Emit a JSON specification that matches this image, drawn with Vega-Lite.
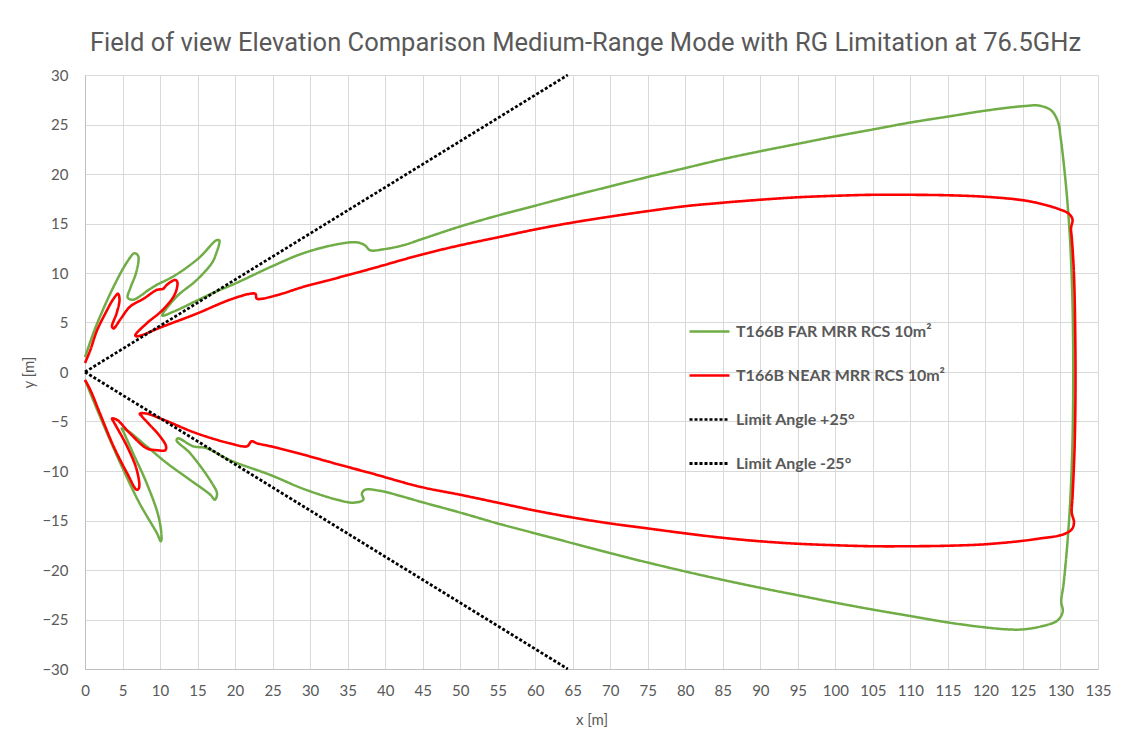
{
  "$schema": "https://vega.github.io/schema/vega-lite/v6.json",
  "width": 1013,
  "height": 594,
  "autosize": {"type": "none"},
  "padding": {"left": 85, "top": 75, "right": 33, "bottom": 69},
  "background": "white",
  "title": {
    "text": "Field of view Elevation Comparison Medium-Range Mode with RG Limitation at 76.5GHz",
    "font": "Roboto",
    "fontSize": 25.5,
    "fontWeight": "normal",
    "color": "#595959",
    "anchor": "middle",
    "offset": 12,
    "dx": -6
  },
  "config": {
    "view": {"stroke": null},
    "axis": {
      "labelFont": "Lato",
      "labelFontSize": 15,
      "labelColor": "#595959",
      "titleFont": "Lato",
      "titleFontSize": 15,
      "titleFontWeight": "normal",
      "titleColor": "#595959",
      "gridColor": "#d9d9d9",
      "gridWidth": 1,
      "domainColor": "#bfbfbf",
      "ticks": false
    },
    "legend": {
      "labelFont": "Lato",
      "labelFontSize": 16,
      "labelFontWeight": "bold",
      "labelColor": "#595959",
      "labelLimit": 0
    }
  },
  "data": {
    "values": [
      {"s": "T166B FAR MRR RCS 10m²", "o": 1, "x": 0, "y": 1.5},
      {"s": "T166B FAR MRR RCS 10m²", "o": 2, "x": 1.1, "y": 3.9},
      {"s": "T166B FAR MRR RCS 10m²", "o": 3, "x": 2.0, "y": 5.6},
      {"s": "T166B FAR MRR RCS 10m²", "o": 4, "x": 3.8, "y": 8.6},
      {"s": "T166B FAR MRR RCS 10m²", "o": 5, "x": 5.6, "y": 11.1},
      {"s": "T166B FAR MRR RCS 10m²", "o": 6, "x": 6.6, "y": 12.0},
      {"s": "T166B FAR MRR RCS 10m²", "o": 7, "x": 7.1, "y": 11.7},
      {"s": "T166B FAR MRR RCS 10m²", "o": 8, "x": 6.8, "y": 10.0},
      {"s": "T166B FAR MRR RCS 10m²", "o": 9, "x": 6.1, "y": 8.6},
      {"s": "T166B FAR MRR RCS 10m²", "o": 10, "x": 5.7, "y": 7.5},
      {"s": "T166B FAR MRR RCS 10m²", "o": 11, "x": 6.4, "y": 7.3},
      {"s": "T166B FAR MRR RCS 10m²", "o": 12, "x": 7.6, "y": 7.8},
      {"s": "T166B FAR MRR RCS 10m²", "o": 13, "x": 8.3, "y": 8.2},
      {"s": "T166B FAR MRR RCS 10m²", "o": 14, "x": 9.8, "y": 8.9},
      {"s": "T166B FAR MRR RCS 10m²", "o": 15, "x": 10.9, "y": 9.3},
      {"s": "T166B FAR MRR RCS 10m²", "o": 16, "x": 12.7, "y": 10.1},
      {"s": "T166B FAR MRR RCS 10m²", "o": 17, "x": 15.3, "y": 11.6},
      {"s": "T166B FAR MRR RCS 10m²", "o": 18, "x": 17.5, "y": 13.3},
      {"s": "T166B FAR MRR RCS 10m²", "o": 19, "x": 17.9, "y": 13.3},
      {"s": "T166B FAR MRR RCS 10m²", "o": 20, "x": 17.4, "y": 11.8},
      {"s": "T166B FAR MRR RCS 10m²", "o": 21, "x": 16.9, "y": 11.0},
      {"s": "T166B FAR MRR RCS 10m²", "o": 22, "x": 14.9, "y": 9.3},
      {"s": "T166B FAR MRR RCS 10m²", "o": 23, "x": 12.2, "y": 7.6},
      {"s": "T166B FAR MRR RCS 10m²", "o": 24, "x": 10.3, "y": 5.7},
      {"s": "T166B FAR MRR RCS 10m²", "o": 25, "x": 11.8, "y": 6.1},
      {"s": "T166B FAR MRR RCS 10m²", "o": 26, "x": 17.1, "y": 8.0},
      {"s": "T166B FAR MRR RCS 10m²", "o": 27, "x": 20.2, "y": 9.0},
      {"s": "T166B FAR MRR RCS 10m²", "o": 28, "x": 24.7, "y": 10.6},
      {"s": "T166B FAR MRR RCS 10m²", "o": 29, "x": 29.1, "y": 12.0},
      {"s": "T166B FAR MRR RCS 10m²", "o": 30, "x": 33.6, "y": 12.9},
      {"s": "T166B FAR MRR RCS 10m²", "o": 31, "x": 36.2, "y": 13.1},
      {"s": "T166B FAR MRR RCS 10m²", "o": 32, "x": 37.3, "y": 12.8},
      {"s": "T166B FAR MRR RCS 10m²", "o": 33, "x": 38.0, "y": 12.3},
      {"s": "T166B FAR MRR RCS 10m²", "o": 34, "x": 39.8, "y": 12.4},
      {"s": "T166B FAR MRR RCS 10m²", "o": 35, "x": 42.4, "y": 12.8},
      {"s": "T166B FAR MRR RCS 10m²", "o": 36, "x": 44.8, "y": 13.4},
      {"s": "T166B FAR MRR RCS 10m²", "o": 37, "x": 50, "y": 14.7},
      {"s": "T166B FAR MRR RCS 10m²", "o": 38, "x": 55, "y": 15.8},
      {"s": "T166B FAR MRR RCS 10m²", "o": 39, "x": 60, "y": 16.8},
      {"s": "T166B FAR MRR RCS 10m²", "o": 40, "x": 65, "y": 17.8},
      {"s": "T166B FAR MRR RCS 10m²", "o": 41, "x": 70, "y": 18.75},
      {"s": "T166B FAR MRR RCS 10m²", "o": 42, "x": 75, "y": 19.7},
      {"s": "T166B FAR MRR RCS 10m²", "o": 43, "x": 80, "y": 20.6},
      {"s": "T166B FAR MRR RCS 10m²", "o": 44, "x": 85, "y": 21.5},
      {"s": "T166B FAR MRR RCS 10m²", "o": 45, "x": 90, "y": 22.3},
      {"s": "T166B FAR MRR RCS 10m²", "o": 46, "x": 95, "y": 23.05},
      {"s": "T166B FAR MRR RCS 10m²", "o": 47, "x": 100, "y": 23.8},
      {"s": "T166B FAR MRR RCS 10m²", "o": 48, "x": 105, "y": 24.5},
      {"s": "T166B FAR MRR RCS 10m²", "o": 49, "x": 110, "y": 25.2},
      {"s": "T166B FAR MRR RCS 10m²", "o": 50, "x": 115, "y": 25.8},
      {"s": "T166B FAR MRR RCS 10m²", "o": 51, "x": 120, "y": 26.4},
      {"s": "T166B FAR MRR RCS 10m²", "o": 52, "x": 125, "y": 26.85},
      {"s": "T166B FAR MRR RCS 10m²", "o": 53, "x": 127.2, "y": 26.9},
      {"s": "T166B FAR MRR RCS 10m²", "o": 54, "x": 128.8, "y": 26.4},
      {"s": "T166B FAR MRR RCS 10m²", "o": 55, "x": 129.7, "y": 25.2},
      {"s": "T166B FAR MRR RCS 10m²", "o": 56, "x": 130.0, "y": 23.8},
      {"s": "T166B FAR MRR RCS 10m²", "o": 57, "x": 130.4, "y": 21.3},
      {"s": "T166B FAR MRR RCS 10m²", "o": 58, "x": 130.9, "y": 17.4},
      {"s": "T166B FAR MRR RCS 10m²", "o": 59, "x": 131.3, "y": 13.0},
      {"s": "T166B FAR MRR RCS 10m²", "o": 60, "x": 131.6, "y": 7.0},
      {"s": "T166B FAR MRR RCS 10m²", "o": 61, "x": 131.7, "y": 0},
      {"s": "T166B FAR MRR RCS 10m²", "o": 62, "x": 131.6, "y": -7.0},
      {"s": "T166B FAR MRR RCS 10m²", "o": 63, "x": 131.3, "y": -13.0},
      {"s": "T166B FAR MRR RCS 10m²", "o": 64, "x": 130.9, "y": -17.5},
      {"s": "T166B FAR MRR RCS 10m²", "o": 65, "x": 130.4, "y": -21.5},
      {"s": "T166B FAR MRR RCS 10m²", "o": 66, "x": 130.1, "y": -23.2},
      {"s": "T166B FAR MRR RCS 10m²", "o": 67, "x": 130.3, "y": -24.2},
      {"s": "T166B FAR MRR RCS 10m²", "o": 68, "x": 129.6, "y": -25.1},
      {"s": "T166B FAR MRR RCS 10m²", "o": 69, "x": 127.4, "y": -25.7},
      {"s": "T166B FAR MRR RCS 10m²", "o": 70, "x": 125, "y": -26.0},
      {"s": "T166B FAR MRR RCS 10m²", "o": 71, "x": 123, "y": -26.0},
      {"s": "T166B FAR MRR RCS 10m²", "o": 72, "x": 120, "y": -25.8},
      {"s": "T166B FAR MRR RCS 10m²", "o": 73, "x": 115, "y": -25.3},
      {"s": "T166B FAR MRR RCS 10m²", "o": 74, "x": 110, "y": -24.65},
      {"s": "T166B FAR MRR RCS 10m²", "o": 75, "x": 105, "y": -24.0},
      {"s": "T166B FAR MRR RCS 10m²", "o": 76, "x": 100, "y": -23.3},
      {"s": "T166B FAR MRR RCS 10m²", "o": 77, "x": 95, "y": -22.55},
      {"s": "T166B FAR MRR RCS 10m²", "o": 78, "x": 90, "y": -21.8},
      {"s": "T166B FAR MRR RCS 10m²", "o": 79, "x": 85, "y": -21.0},
      {"s": "T166B FAR MRR RCS 10m²", "o": 80, "x": 80, "y": -20.15},
      {"s": "T166B FAR MRR RCS 10m²", "o": 81, "x": 75, "y": -19.25},
      {"s": "T166B FAR MRR RCS 10m²", "o": 82, "x": 70, "y": -18.3},
      {"s": "T166B FAR MRR RCS 10m²", "o": 83, "x": 65, "y": -17.3},
      {"s": "T166B FAR MRR RCS 10m²", "o": 84, "x": 60, "y": -16.3},
      {"s": "T166B FAR MRR RCS 10m²", "o": 85, "x": 55, "y": -15.3},
      {"s": "T166B FAR MRR RCS 10m²", "o": 86, "x": 50, "y": -14.2},
      {"s": "T166B FAR MRR RCS 10m²", "o": 87, "x": 44.7, "y": -13.1},
      {"s": "T166B FAR MRR RCS 10m²", "o": 88, "x": 42.4, "y": -12.6},
      {"s": "T166B FAR MRR RCS 10m²", "o": 89, "x": 39.3, "y": -12.0},
      {"s": "T166B FAR MRR RCS 10m²", "o": 90, "x": 37.3, "y": -11.9},
      {"s": "T166B FAR MRR RCS 10m²", "o": 91, "x": 36.9, "y": -12.3},
      {"s": "T166B FAR MRR RCS 10m²", "o": 92, "x": 37.1, "y": -12.9},
      {"s": "T166B FAR MRR RCS 10m²", "o": 93, "x": 35.8, "y": -13.2},
      {"s": "T166B FAR MRR RCS 10m²", "o": 94, "x": 33.6, "y": -12.9},
      {"s": "T166B FAR MRR RCS 10m²", "o": 95, "x": 29.1, "y": -11.8},
      {"s": "T166B FAR MRR RCS 10m²", "o": 96, "x": 24.7, "y": -10.4},
      {"s": "T166B FAR MRR RCS 10m²", "o": 97, "x": 19.3, "y": -8.9},
      {"s": "T166B FAR MRR RCS 10m²", "o": 98, "x": 16.2, "y": -7.7},
      {"s": "T166B FAR MRR RCS 10m²", "o": 99, "x": 14.4, "y": -7.5},
      {"s": "T166B FAR MRR RCS 10m²", "o": 100, "x": 12.4, "y": -6.7},
      {"s": "T166B FAR MRR RCS 10m²", "o": 101, "x": 12.2, "y": -6.9},
      {"s": "T166B FAR MRR RCS 10m²", "o": 102, "x": 14.0, "y": -8.2},
      {"s": "T166B FAR MRR RCS 10m²", "o": 103, "x": 16.9, "y": -11.2},
      {"s": "T166B FAR MRR RCS 10m²", "o": 104, "x": 17.6, "y": -12.3},
      {"s": "T166B FAR MRR RCS 10m²", "o": 105, "x": 17.3, "y": -12.9},
      {"s": "T166B FAR MRR RCS 10m²", "o": 106, "x": 16.7, "y": -12.4},
      {"s": "T166B FAR MRR RCS 10m²", "o": 107, "x": 14.0, "y": -10.9},
      {"s": "T166B FAR MRR RCS 10m²", "o": 108, "x": 10.9, "y": -9.2},
      {"s": "T166B FAR MRR RCS 10m²", "o": 109, "x": 8.2, "y": -7.5},
      {"s": "T166B FAR MRR RCS 10m²", "o": 110, "x": 5.6, "y": -5.9},
      {"s": "T166B FAR MRR RCS 10m²", "o": 111, "x": 4.9, "y": -5.7},
      {"s": "T166B FAR MRR RCS 10m²", "o": 112, "x": 5.1, "y": -6.0},
      {"s": "T166B FAR MRR RCS 10m²", "o": 113, "x": 6.4, "y": -8.2},
      {"s": "T166B FAR MRR RCS 10m²", "o": 114, "x": 8.2, "y": -11.2},
      {"s": "T166B FAR MRR RCS 10m²", "o": 115, "x": 9.8, "y": -14.6},
      {"s": "T166B FAR MRR RCS 10m²", "o": 116, "x": 10.2, "y": -16.8},
      {"s": "T166B FAR MRR RCS 10m²", "o": 117, "x": 10.1, "y": -17.1},
      {"s": "T166B FAR MRR RCS 10m²", "o": 118, "x": 9.6, "y": -16.3},
      {"s": "T166B FAR MRR RCS 10m²", "o": 119, "x": 7.3, "y": -13.3},
      {"s": "T166B FAR MRR RCS 10m²", "o": 120, "x": 4.7, "y": -9.2},
      {"s": "T166B FAR MRR RCS 10m²", "o": 121, "x": 2.0, "y": -4.5},
      {"s": "T166B FAR MRR RCS 10m²", "o": 122, "x": 0, "y": -0.8},

      {"s": "T166B NEAR MRR RCS 10m²", "o": 1, "x": 0, "y": 0.9},
      {"s": "T166B NEAR MRR RCS 10m²", "o": 2, "x": 0.7, "y": 2.2},
      {"s": "T166B NEAR MRR RCS 10m²", "o": 3, "x": 1.6, "y": 4.2},
      {"s": "T166B NEAR MRR RCS 10m²", "o": 4, "x": 2.7, "y": 5.9},
      {"s": "T166B NEAR MRR RCS 10m²", "o": 5, "x": 3.8, "y": 7.4},
      {"s": "T166B NEAR MRR RCS 10m²", "o": 6, "x": 4.4, "y": 7.9},
      {"s": "T166B NEAR MRR RCS 10m²", "o": 7, "x": 4.6, "y": 7.3},
      {"s": "T166B NEAR MRR RCS 10m²", "o": 8, "x": 4.2, "y": 5.9},
      {"s": "T166B NEAR MRR RCS 10m²", "o": 9, "x": 3.6, "y": 4.6},
      {"s": "T166B NEAR MRR RCS 10m²", "o": 10, "x": 3.8, "y": 4.4},
      {"s": "T166B NEAR MRR RCS 10m²", "o": 11, "x": 4.7, "y": 5.3},
      {"s": "T166B NEAR MRR RCS 10m²", "o": 12, "x": 6.0, "y": 6.6},
      {"s": "T166B NEAR MRR RCS 10m²", "o": 13, "x": 7.8, "y": 7.4},
      {"s": "T166B NEAR MRR RCS 10m²", "o": 14, "x": 9.6, "y": 8.3},
      {"s": "T166B NEAR MRR RCS 10m²", "o": 15, "x": 10.4, "y": 8.4},
      {"s": "T166B NEAR MRR RCS 10m²", "o": 16, "x": 10.9, "y": 8.8},
      {"s": "T166B NEAR MRR RCS 10m²", "o": 17, "x": 12.0, "y": 9.3},
      {"s": "T166B NEAR MRR RCS 10m²", "o": 18, "x": 12.3, "y": 9.1},
      {"s": "T166B NEAR MRR RCS 10m²", "o": 19, "x": 12.0, "y": 7.9},
      {"s": "T166B NEAR MRR RCS 10m²", "o": 20, "x": 10.4, "y": 6.3},
      {"s": "T166B NEAR MRR RCS 10m²", "o": 21, "x": 8.2, "y": 4.9},
      {"s": "T166B NEAR MRR RCS 10m²", "o": 22, "x": 6.7, "y": 3.7},
      {"s": "T166B NEAR MRR RCS 10m²", "o": 23, "x": 6.9, "y": 3.6},
      {"s": "T166B NEAR MRR RCS 10m²", "o": 24, "x": 10.4, "y": 4.6},
      {"s": "T166B NEAR MRR RCS 10m²", "o": 25, "x": 14.9, "y": 5.9},
      {"s": "T166B NEAR MRR RCS 10m²", "o": 26, "x": 19.3, "y": 7.3},
      {"s": "T166B NEAR MRR RCS 10m²", "o": 27, "x": 22.0, "y": 7.9},
      {"s": "T166B NEAR MRR RCS 10m²", "o": 28, "x": 22.7, "y": 7.9},
      {"s": "T166B NEAR MRR RCS 10m²", "o": 29, "x": 22.9, "y": 7.4},
      {"s": "T166B NEAR MRR RCS 10m²", "o": 30, "x": 23.6, "y": 7.4},
      {"s": "T166B NEAR MRR RCS 10m²", "o": 31, "x": 26.0, "y": 7.85},
      {"s": "T166B NEAR MRR RCS 10m²", "o": 32, "x": 29.1, "y": 8.6},
      {"s": "T166B NEAR MRR RCS 10m²", "o": 33, "x": 33.6, "y": 9.5},
      {"s": "T166B NEAR MRR RCS 10m²", "o": 34, "x": 38.0, "y": 10.4},
      {"s": "T166B NEAR MRR RCS 10m²", "o": 35, "x": 44.8, "y": 11.85},
      {"s": "T166B NEAR MRR RCS 10m²", "o": 36, "x": 50, "y": 12.8},
      {"s": "T166B NEAR MRR RCS 10m²", "o": 37, "x": 55, "y": 13.6},
      {"s": "T166B NEAR MRR RCS 10m²", "o": 38, "x": 60, "y": 14.4},
      {"s": "T166B NEAR MRR RCS 10m²", "o": 39, "x": 65, "y": 15.1},
      {"s": "T166B NEAR MRR RCS 10m²", "o": 40, "x": 70, "y": 15.7},
      {"s": "T166B NEAR MRR RCS 10m²", "o": 41, "x": 75, "y": 16.25},
      {"s": "T166B NEAR MRR RCS 10m²", "o": 42, "x": 80, "y": 16.75},
      {"s": "T166B NEAR MRR RCS 10m²", "o": 43, "x": 85, "y": 17.1},
      {"s": "T166B NEAR MRR RCS 10m²", "o": 44, "x": 90, "y": 17.4},
      {"s": "T166B NEAR MRR RCS 10m²", "o": 45, "x": 95, "y": 17.65},
      {"s": "T166B NEAR MRR RCS 10m²", "o": 46, "x": 100, "y": 17.8},
      {"s": "T166B NEAR MRR RCS 10m²", "o": 47, "x": 105, "y": 17.9},
      {"s": "T166B NEAR MRR RCS 10m²", "o": 48, "x": 110, "y": 17.9},
      {"s": "T166B NEAR MRR RCS 10m²", "o": 49, "x": 115, "y": 17.85},
      {"s": "T166B NEAR MRR RCS 10m²", "o": 50, "x": 120, "y": 17.7},
      {"s": "T166B NEAR MRR RCS 10m²", "o": 51, "x": 125, "y": 17.35},
      {"s": "T166B NEAR MRR RCS 10m²", "o": 52, "x": 127.6, "y": 16.95},
      {"s": "T166B NEAR MRR RCS 10m²", "o": 53, "x": 129.8, "y": 16.45},
      {"s": "T166B NEAR MRR RCS 10m²", "o": 54, "x": 131.1, "y": 16.0},
      {"s": "T166B NEAR MRR RCS 10m²", "o": 55, "x": 131.6, "y": 15.4},
      {"s": "T166B NEAR MRR RCS 10m²", "o": 56, "x": 131.4, "y": 14.5},
      {"s": "T166B NEAR MRR RCS 10m²", "o": 57, "x": 131.5, "y": 13.6},
      {"s": "T166B NEAR MRR RCS 10m²", "o": 58, "x": 131.8, "y": 9.8},
      {"s": "T166B NEAR MRR RCS 10m²", "o": 59, "x": 132.0, "y": 0.5},
      {"s": "T166B NEAR MRR RCS 10m²", "o": 60, "x": 131.9, "y": -7.1},
      {"s": "T166B NEAR MRR RCS 10m²", "o": 61, "x": 131.6, "y": -12.7},
      {"s": "T166B NEAR MRR RCS 10m²", "o": 62, "x": 131.5, "y": -14.2},
      {"s": "T166B NEAR MRR RCS 10m²", "o": 63, "x": 131.8, "y": -15.2},
      {"s": "T166B NEAR MRR RCS 10m²", "o": 64, "x": 131.5, "y": -15.9},
      {"s": "T166B NEAR MRR RCS 10m²", "o": 65, "x": 130.2, "y": -16.45},
      {"s": "T166B NEAR MRR RCS 10m²", "o": 66, "x": 127.4, "y": -16.8},
      {"s": "T166B NEAR MRR RCS 10m²", "o": 67, "x": 125, "y": -17.05},
      {"s": "T166B NEAR MRR RCS 10m²", "o": 68, "x": 120, "y": -17.4},
      {"s": "T166B NEAR MRR RCS 10m²", "o": 69, "x": 115, "y": -17.55},
      {"s": "T166B NEAR MRR RCS 10m²", "o": 70, "x": 110, "y": -17.6},
      {"s": "T166B NEAR MRR RCS 10m²", "o": 71, "x": 105, "y": -17.6},
      {"s": "T166B NEAR MRR RCS 10m²", "o": 72, "x": 100, "y": -17.5},
      {"s": "T166B NEAR MRR RCS 10m²", "o": 73, "x": 95, "y": -17.35},
      {"s": "T166B NEAR MRR RCS 10m²", "o": 74, "x": 90, "y": -17.1},
      {"s": "T166B NEAR MRR RCS 10m²", "o": 75, "x": 85, "y": -16.75},
      {"s": "T166B NEAR MRR RCS 10m²", "o": 76, "x": 80, "y": -16.3},
      {"s": "T166B NEAR MRR RCS 10m²", "o": 77, "x": 75, "y": -15.8},
      {"s": "T166B NEAR MRR RCS 10m²", "o": 78, "x": 70, "y": -15.3},
      {"s": "T166B NEAR MRR RCS 10m²", "o": 79, "x": 65, "y": -14.7},
      {"s": "T166B NEAR MRR RCS 10m²", "o": 80, "x": 60, "y": -14.0},
      {"s": "T166B NEAR MRR RCS 10m²", "o": 81, "x": 55, "y": -13.2},
      {"s": "T166B NEAR MRR RCS 10m²", "o": 82, "x": 50, "y": -12.4},
      {"s": "T166B NEAR MRR RCS 10m²", "o": 83, "x": 44.7, "y": -11.6},
      {"s": "T166B NEAR MRR RCS 10m²", "o": 84, "x": 38.0, "y": -10.2},
      {"s": "T166B NEAR MRR RCS 10m²", "o": 85, "x": 33.6, "y": -9.3},
      {"s": "T166B NEAR MRR RCS 10m²", "o": 86, "x": 29.1, "y": -8.35},
      {"s": "T166B NEAR MRR RCS 10m²", "o": 87, "x": 24.7, "y": -7.5},
      {"s": "T166B NEAR MRR RCS 10m²", "o": 88, "x": 22.9, "y": -7.2},
      {"s": "T166B NEAR MRR RCS 10m²", "o": 89, "x": 22.2, "y": -7.0},
      {"s": "T166B NEAR MRR RCS 10m²", "o": 90, "x": 21.6, "y": -7.5},
      {"s": "T166B NEAR MRR RCS 10m²", "o": 91, "x": 19.3, "y": -7.2},
      {"s": "T166B NEAR MRR RCS 10m²", "o": 92, "x": 14.9, "y": -6.2},
      {"s": "T166B NEAR MRR RCS 10m²", "o": 93, "x": 10.4, "y": -4.8},
      {"s": "T166B NEAR MRR RCS 10m²", "o": 94, "x": 8.2, "y": -4.2},
      {"s": "T166B NEAR MRR RCS 10m²", "o": 95, "x": 7.3, "y": -4.2},
      {"s": "T166B NEAR MRR RCS 10m²", "o": 96, "x": 7.6, "y": -4.5},
      {"s": "T166B NEAR MRR RCS 10m²", "o": 97, "x": 8.7, "y": -5.4},
      {"s": "T166B NEAR MRR RCS 10m²", "o": 98, "x": 10.0, "y": -6.5},
      {"s": "T166B NEAR MRR RCS 10m²", "o": 99, "x": 10.8, "y": -7.5},
      {"s": "T166B NEAR MRR RCS 10m²", "o": 100, "x": 10.7, "y": -7.9},
      {"s": "T166B NEAR MRR RCS 10m²", "o": 101, "x": 9.6, "y": -7.9},
      {"s": "T166B NEAR MRR RCS 10m²", "o": 102, "x": 8.2, "y": -7.7},
      {"s": "T166B NEAR MRR RCS 10m²", "o": 103, "x": 6.0, "y": -6.2},
      {"s": "T166B NEAR MRR RCS 10m²", "o": 104, "x": 4.2, "y": -4.8},
      {"s": "T166B NEAR MRR RCS 10m²", "o": 105, "x": 3.6, "y": -4.7},
      {"s": "T166B NEAR MRR RCS 10m²", "o": 106, "x": 3.8, "y": -5.0},
      {"s": "T166B NEAR MRR RCS 10m²", "o": 107, "x": 5.6, "y": -7.5},
      {"s": "T166B NEAR MRR RCS 10m²", "o": 108, "x": 6.9, "y": -9.9},
      {"s": "T166B NEAR MRR RCS 10m²", "o": 109, "x": 7.2, "y": -11.7},
      {"s": "T166B NEAR MRR RCS 10m²", "o": 110, "x": 6.9, "y": -11.9},
      {"s": "T166B NEAR MRR RCS 10m²", "o": 111, "x": 5.6, "y": -10.2},
      {"s": "T166B NEAR MRR RCS 10m²", "o": 112, "x": 3.8, "y": -7.5},
      {"s": "T166B NEAR MRR RCS 10m²", "o": 113, "x": 2.0, "y": -4.2},
      {"s": "T166B NEAR MRR RCS 10m²", "o": 114, "x": 0.7, "y": -1.8},
      {"s": "T166B NEAR MRR RCS 10m²", "o": 115, "x": 0, "y": -0.8},

      {"s": "Limit Angle +25°", "o": 1, "x": 0, "y": 0},
      {"s": "Limit Angle +25°", "o": 2, "x": 64.34, "y": 30},
      {"s": "Limit Angle -25°", "o": 1, "x": 0, "y": 0},
      {"s": "Limit Angle -25°", "o": 2, "x": 64.34, "y": -30}
    ]
  },
  "mark": {"type": "line", "interpolate": "catmull-rom", "strokeCap": "butt"},
  "encoding": {
    "x": {
      "field": "x",
      "type": "quantitative",
      "scale": {"domain": [0, 135], "nice": false, "zero": false},
      "axis": {"values": [0,5,10,15,20,25,30,35,40,45,50,55,60,65,70,75,80,85,90,95,100,105,110,115,120,125,130,135], "title": "x [m]", "labelPadding": 14, "titlePadding": 14, "labelFlush": false}
    },
    "y": {
      "field": "y",
      "type": "quantitative",
      "scale": {"domain": [-30, 30], "nice": false, "zero": false},
      "axis": {"values": [-30,-25,-20,-15,-10,-5,0,5,10,15,20,25,30], "title": "y [m]", "labelPadding": 17, "titlePadding": 5, "labelFlush": false}
    },
    "order": {"field": "o", "type": "quantitative"},
    "detail": {"field": "s", "type": "nominal"},
    "color": {
      "field": "s",
      "type": "nominal",
      "scale": {
        "domain": ["T166B FAR MRR RCS 10m²", "T166B NEAR MRR RCS 10m²", "Limit Angle +25°", "Limit Angle -25°"],
        "range": ["#70ad47", "#ff0000", "#000000", "#000000"]
      },
      "legend": {
        "title": null,
        "orient": "none",
        "legendX": 603,
        "legendY": 235,
        "symbolType": "stroke",
        "symbolSize": 1600,
        "symbolStrokeWidth": 1.8,
        "labelOffset": 5,
        "rowPadding": 14,
        "labelLimit": 0
      }
    },
    "strokeDash": {
      "field": "s",
      "type": "nominal",
      "scale": {
        "domain": ["T166B FAR MRR RCS 10m²", "T166B NEAR MRR RCS 10m²", "Limit Angle +25°", "Limit Angle -25°"],
        "range": [[1, 0], [1, 0], [3, 2], [3, 2]]
      },
      "legend": {
        "title": null,
        "orient": "none",
        "legendX": 603,
        "legendY": 235,
        "symbolType": "stroke",
        "symbolSize": 1600,
        "symbolStrokeWidth": 1.8,
        "labelOffset": 5,
        "rowPadding": 14,
        "labelLimit": 0
      }
    },
    "strokeWidth": {
      "field": "s",
      "type": "nominal",
      "scale": {
        "domain": ["T166B FAR MRR RCS 10m²", "T166B NEAR MRR RCS 10m²", "Limit Angle +25°", "Limit Angle -25°"],
        "range": [2.5, 2.8, 1.3, 1.3]
      },
      "legend": null
    }
  }
}
